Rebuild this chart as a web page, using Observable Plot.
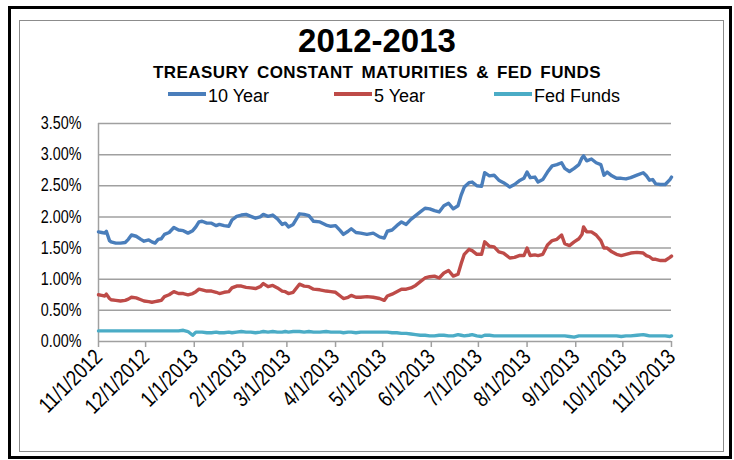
<!DOCTYPE html>
<html><head><meta charset="utf-8">
<script src="https://cdn.jsdelivr.net/npm/d3@7"></script>
<script src="https://cdn.jsdelivr.net/npm/@observablehq/plot@0.6"></script>
<style>
body{margin:0;background:#fff;font-family:"Liberation Sans",Arial,sans-serif;}
#wrap{position:relative;width:734px;height:460px;overflow:hidden;background:#fff;}
.outer{position:absolute;left:8px;top:6px;width:724px;height:453px;border:3px solid #000;box-sizing:border-box;}
.inner{position:absolute;left:19px;top:20px;width:705px;height:432px;border:1px solid #8c8c8c;box-sizing:border-box;}
.t{position:absolute;white-space:nowrap;line-height:1;color:#000;}
.sw{position:absolute;height:4px;width:38px;}
#chart{position:absolute;left:0;top:110px;}
</style></head><body>
<div id="wrap">
  <div class="outer"></div>
  <div class="inner"></div>
  <div class="t" id="title" style="left:377px;top:24px;font-size:33px;font-weight:bold;transform:translateX(-50%);"></div>
  <div class="t" id="subtitle" style="left:377px;top:64px;font-size:17px;font-weight:bold;letter-spacing:0.4px;word-spacing:3px;transform:translateX(-50%);"></div>
  <div id="legend"></div>
  <div id="chart"></div>
</div>
<script>
const titleText = "2012-2013";
const subtitleText = "TREASURY CONSTANT MATURITIES & FED FUNDS";
const seriesNames = ["10 Year", "5 Year", "Fed Funds"];
const seriesColors = ["#4A7EBB", "#BE4B48", "#4BACC6"];

const dates = [
  "2012-11-01","2012-11-03","2012-11-05","2012-11-06","2012-11-08","2012-11-09","2012-11-12","2012-11-15","2012-11-18","2012-11-20","2012-11-22","2012-11-25","2012-11-28","2012-11-30",
  "2012-12-03","2012-12-05","2012-12-07","2012-12-09","2012-12-11","2012-12-13","2012-12-16","2012-12-19","2012-12-22","2012-12-25","2012-12-28","2012-12-31",
  "2013-01-02","2013-01-04","2013-01-06","2013-01-09","2013-01-12","2013-01-15","2013-01-17","2013-01-20","2013-01-23","2013-01-25","2013-01-28","2013-01-31",
  "2013-02-03","2013-02-06","2013-02-09","2013-02-12","2013-02-14","2013-02-17","2013-02-20","2013-02-23","2013-02-26","2013-02-28",
  "2013-03-02","2013-03-05","2013-03-09","2013-03-12","2013-03-15","2013-03-18","2013-03-22","2013-03-26","2013-03-29",
  "2013-04-01","2013-04-04","2013-04-06","2013-04-09","2013-04-11","2013-04-14","2013-04-17","2013-04-21","2013-04-25","2013-04-29",
  "2013-05-02","2013-05-04","2013-05-07","2013-05-10","2013-05-13","2013-05-16","2013-05-19","2013-05-22","2013-05-25","2013-05-28","2013-05-31",
  "2013-06-03","2013-06-06","2013-06-09","2013-06-12","2013-06-15","2013-06-18","2013-06-20","2013-06-22","2013-06-25","2013-06-27","2013-06-30",
  "2013-07-03","2013-07-05","2013-07-08","2013-07-11","2013-07-14","2013-07-17","2013-07-21","2013-07-24","2013-07-27","2013-07-30",
  "2013-08-01","2013-08-03","2013-08-06","2013-08-08","2013-08-11","2013-08-14","2013-08-17","2013-08-20","2013-08-23","2013-08-25","2013-08-28","2013-08-31",
  "2013-09-03","2013-09-05","2013-09-06","2013-09-08","2013-09-11","2013-09-14","2013-09-17","2013-09-19","2013-09-21","2013-09-24","2013-09-27","2013-09-30",
  "2013-10-03","2013-10-06","2013-10-10","2013-10-14","2013-10-16","2013-10-18","2013-10-20","2013-10-22","2013-10-25","2013-10-28","2013-10-31",
  "2013-11-01"
];

const tenYear = [
  1.76,1.75,1.74,1.77,1.62,1.60,1.58,1.58,1.59,1.64,1.71,1.69,1.64,1.61,
  1.63,1.60,1.58,1.64,1.65,1.72,1.75,1.83,1.79,1.78,1.74,1.78,
  1.84,1.92,1.93,1.90,1.90,1.86,1.88,1.86,1.85,1.95,2.01,2.03,
  2.04,2.01,1.98,2.00,2.04,2.01,2.03,1.97,1.88,1.90,
  1.84,1.88,2.05,2.04,2.02,1.93,1.92,1.87,1.85,
  1.86,1.78,1.72,1.77,1.81,1.75,1.74,1.72,1.74,1.68,
  1.66,1.77,1.79,1.86,1.92,1.88,1.96,2.02,2.08,2.14,2.13,
  2.10,2.08,2.18,2.22,2.13,2.18,2.35,2.48,2.55,2.56,2.50,
  2.49,2.71,2.66,2.67,2.59,2.55,2.48,2.52,2.58,2.62,
  2.72,2.63,2.64,2.56,2.60,2.72,2.82,2.84,2.87,2.78,2.73,2.78,
  2.84,2.95,2.98,2.90,2.93,2.87,2.84,2.67,2.72,2.66,2.62,2.62,
  2.61,2.63,2.67,2.71,2.66,2.59,2.60,2.53,2.52,2.52,2.60,
  2.64
];

const fiveYear = [
  0.75,0.74,0.73,0.76,0.69,0.67,0.66,0.65,0.66,0.68,0.71,0.70,0.67,0.65,
  0.64,0.63,0.64,0.65,0.66,0.72,0.75,0.80,0.77,0.77,0.75,0.77,
  0.80,0.84,0.83,0.81,0.81,0.79,0.77,0.79,0.80,0.86,0.89,0.89,
  0.87,0.86,0.85,0.88,0.93,0.88,0.90,0.86,0.81,0.80,
  0.77,0.79,0.92,0.89,0.88,0.84,0.83,0.81,0.80,
  0.79,0.73,0.69,0.71,0.74,0.71,0.71,0.72,0.71,0.69,
  0.66,0.73,0.76,0.80,0.84,0.84,0.86,0.90,0.96,1.02,1.04,
  1.05,1.02,1.10,1.14,1.05,1.08,1.25,1.40,1.48,1.46,1.40,
  1.40,1.60,1.53,1.52,1.44,1.42,1.34,1.35,1.38,1.38,
  1.50,1.38,1.39,1.38,1.40,1.55,1.62,1.64,1.71,1.57,1.54,1.60,
  1.65,1.72,1.84,1.76,1.76,1.71,1.62,1.50,1.50,1.44,1.40,1.38,
  1.40,1.42,1.43,1.42,1.38,1.36,1.32,1.32,1.30,1.30,1.35,
  1.37
];

const fedFunds = [
  0.17,0.17,0.17,0.17,0.17,0.17,0.17,0.17,0.17,0.17,0.17,0.17,0.17,0.17,
  0.17,0.17,0.17,0.17,0.17,0.17,0.17,0.17,0.17,0.18,0.16,0.10,
  0.15,0.15,0.15,0.14,0.14,0.15,0.14,0.14,0.15,0.14,0.15,0.16,
  0.15,0.15,0.14,0.15,0.16,0.15,0.16,0.15,0.15,0.16,
  0.15,0.16,0.16,0.15,0.16,0.15,0.15,0.16,0.15,
  0.15,0.15,0.14,0.15,0.15,0.14,0.15,0.15,0.15,0.15,
  0.15,0.15,0.14,0.14,0.13,0.13,0.12,0.11,0.10,0.10,0.09,
  0.09,0.10,0.10,0.09,0.09,0.11,0.10,0.09,0.10,0.11,0.09,
  0.08,0.10,0.10,0.09,0.09,0.09,0.09,0.09,0.09,0.09,
  0.09,0.09,0.09,0.09,0.09,0.09,0.09,0.09,0.09,0.09,0.08,0.07,
  0.09,0.09,0.09,0.09,0.09,0.09,0.09,0.09,0.09,0.09,0.09,0.08,
  0.09,0.09,0.10,0.11,0.10,0.09,0.09,0.09,0.09,0.09,0.08,
  0.09
];

const xTicks = ["2012-11-01","2012-12-01","2013-01-01","2013-02-01","2013-03-01","2013-04-01","2013-05-01","2013-06-01","2013-07-01","2013-08-01","2013-09-01","2013-10-01","2013-11-01"];
const xLabels = ["11/1/2012","12/1/2012","1/1/2013","2/1/2013","3/1/2013","4/1/2013","5/1/2013","6/1/2013","7/1/2013","8/1/2013","9/1/2013","10/1/2013","11/1/2013"];
const yTicks = [0, 0.5, 1.0, 1.5, 2.0, 2.5, 3.0, 3.5];
const yLabels = ["0.00%","0.50%","1.00%","1.50%","2.00%","2.50%","3.00%","3.50%"];

document.getElementById("title").textContent = titleText;
document.getElementById("subtitle").textContent = subtitleText;

// legend
const legendX = [168, 334, 494];
const leg = document.getElementById("legend");
seriesNames.forEach((name, i) => {
  const sw = document.createElement("div");
  sw.className = "sw";
  sw.style.left = legendX[i] + "px";
  sw.style.top = "92px";
  sw.style.background = seriesColors[i];
  leg.appendChild(sw);
  const tx = document.createElement("div");
  tx.className = "t";
  tx.style.left = (legendX[i] + 40) + "px";
  tx.style.top = "87px";
  tx.style.fontSize = "18px";
  tx.textContent = name;
  leg.appendChild(tx);
});

const seriesValues = [tenYear, fiveYear, fedFunds];
const rows = [];
seriesValues.forEach((vals, s) => {
  vals.forEach((v, i) => rows.push({date: new Date(dates[i]), value: v, series: seriesNames[s]}));
});

const xTickDates = xTicks.map(d => new Date(d));
const grid = "#a0a0a0";

const chart = Plot.plot({
  width: 734,
  height: 350,
  marginTop: 13,
  marginBottom: 119,
  marginLeft: 98,
  marginRight: 63,
  style: {fontFamily: '"Liberation Sans", Arial, sans-serif', background: "transparent", overflow: "visible", color: "#000"},
  x: {type: "utc", domain: [xTickDates[0], xTickDates[xTickDates.length - 1]]},
  y: {domain: [0, 3.5]},
  color: {domain: seriesNames, range: seriesColors},
  marks: [
    Plot.gridY(yTicks, {stroke: grid, strokeOpacity: 1, strokeWidth: 1.5}),
    Plot.ruleX([xTickDates[0]], {stroke: grid, strokeWidth: 1.5}),
    Plot.axisY(yTicks, {tickSize: 0, tickPadding: 17, fontSize: 17.5, label: null,
      tickFormat: d => yLabels[yTicks.indexOf(d)]}),
    Plot.axisX(xTickDates, {tickSize: 6, tickRotate: -45, fontSize: 22, label: null, stroke: grid, strokeWidth: 1.5,
      tickFormat: d => xLabels[xTicks.indexOf(d.toISOString().slice(0, 10))]}),
    Plot.line(rows, {x: "date", y: "value", z: "series", stroke: "series", strokeWidth: 3.4, curve: "linear"})
  ]
});
document.getElementById("chart").appendChild(chart);

// condense the tick label glyphs horizontally (the reference uses a narrow face)
const squeeze = 0.82;
chart.querySelectorAll('g[aria-label$="tick label"] text').forEach(t => {
  const len = t.getComputedTextLength();
  if (len > 0) {
    t.setAttribute("textLength", (len * squeeze).toFixed(2));
    t.setAttribute("lengthAdjust", "spacingAndGlyphs");
  }
});
</script>
</body></html>
